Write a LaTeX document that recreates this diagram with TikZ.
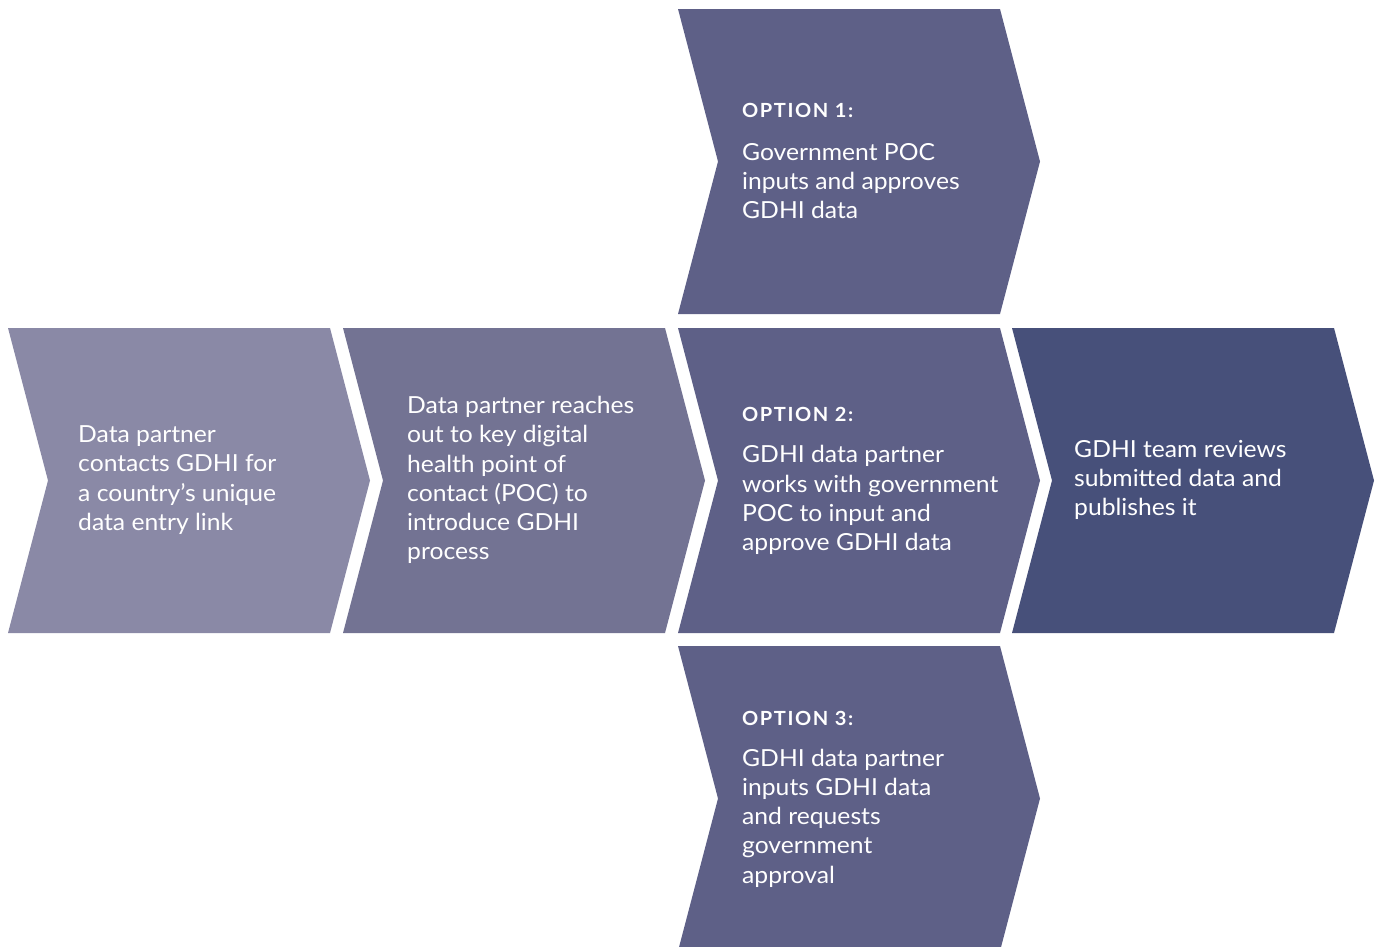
\documentclass[tikz,border=0pt]{standalone}
\usepackage{fontspec}
\setmainfont[FakeStretch=1.05]{Lato}
\newfontfamily\headfont[LetterSpace=8,FakeStretch=1.03]{Lato}
\usetikzlibrary{positioning}
\definecolor{stepone}{RGB}{138,137,166}
\definecolor{steptwo}{RGB}{115,115,147}
\definecolor{stepopt}{RGB}{94,96,135}
\definecolor{stepend}{RGB}{71,80,122}
\newcommand{\chevron}[3]{% top left x, top left y, colour
  \fill[#3] (#1,#2) -- ++(322,0) -- ++(40,152.5) -- ++(-40,152.5) -- ++(-322,0) -- ++(40,-152.5) -- cycle;}

\begin{document}
\begin{tikzpicture}[x=1pt,y=-1pt,
    chevtext/.style={text=white,align=left,inner sep=0pt,anchor=west,font=\fontsize{23.5}{29.3}\selectfont},
    opthead/.style={text=white,inner sep=0pt,anchor=west,font=\headfont\bfseries\fontsize{19.5}{23}\selectfont}]
      \clip(0,0)rectangle(1375,946);
      \useasboundingbox(0,0)rectangle(1375,946);

      % main row
      \chevron{8}{328}{stepone}
      \chevron{343}{328}{steptwo}
      \chevron{678}{328}{stepopt}
      \chevron{1012}{328}{stepend}
      % options above and below
      \chevron{678}{9}{stepopt}
      \chevron{678}{646}{stepopt}

      \node[chevtext](contact) at (78,480){Data partner\\contacts GDHI for\\a country’s unique\\data entry link};
      \node[chevtext](reach) at (407,480){Data partner reaches\\out to key digital\\health point of\\contact (POC) to\\introduce GDHI\\process};
      \node[opthead](opt1) at (742,110){OPTION 1:};
      \node[chevtext](opt1text) at (742,181){Government POC\\inputs and approves\\GDHI data};
      \node[opthead](opt2) at (742,414){OPTION 2:};
      \node[chevtext](opt2text) at (742,500){GDHI data partner\\works with government\\POC to input and\\approve GDHI data};
      \node[opthead](opt3) at (742,718){OPTION 3:};
      \node[chevtext](opt3text) at (742,818){GDHI data partner\\inputs GDHI data\\and requests\\government\\approval};
      \node[chevtext](review) at (1074,480){GDHI team reviews\\submitted data and\\publishes it};
    \end{tikzpicture}
\end{document}
